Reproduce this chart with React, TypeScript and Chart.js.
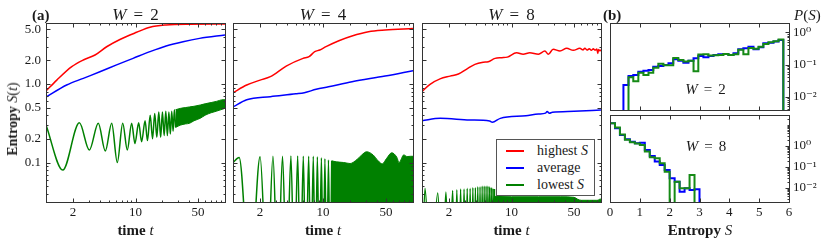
import React, { useEffect, useRef } from 'react';
import { Chart, registerables } from 'chart.js';

Chart.register(...registerables);

// ---------------- data: panel (a), entropy vs time ----------------
const T_MIN = 1;
const T_MAX = 100;
const S_MIN = 0.0314;
const S_MAX = 5.98;
const X_TICKS = [2, 10, 50];
const X_LABELS = ['2', '10', '50'];
const Y_TICKS = [0.1, 0.2, 0.5, 1.0, 2.0, 5.0];
const Y_LABELS = ['0.1', '0.2', '0.5', '1.0', '2.0', '5.0'];

// W = 2
const W2_HIGH_T = [1, 1.32, 1.94, 2.61, 3.53, 4.76, 6.7, 10.3, 14.5, 22, 40, 100];
const W2_HIGH_S = [0.815, 1.12, 1.66, 2.02, 2.34, 2.98, 3.69, 4.55, 5.28, 5.64, 5.77, 5.8];
const W2_AVG_T = [1, 1.7, 2.61, 4.0, 6.15, 9.4, 14.5, 22, 34, 52, 100];
const W2_AVG_S = [0.68, 0.97, 1.18, 1.43, 1.75, 2.12, 2.58, 3.05, 3.46, 3.81, 4.2];
const W2_LOW_T = [1, 1.54, 2.36, 3.05, 3.84, 4.6, 5.42, 6.26, 7.2, 8.1, 9.06, 9.86, 10.85, 11.7, 12.8, 13.6, 14.6, 15.5, 16.4, 17.3, 18.2, 19.1, 20.0, 20.9, 21.8, 22.7, 23.6, 24.5, 25.4, 26.3, 27.2, 28.1];
const W2_LOW_S = [0.30, 0.080, 0.32, 0.144, 0.316, 0.14, 0.316, 0.10, 0.316, 0.144, 0.316, 0.175, 0.32, 0.184, 0.34, 0.19, 0.40, 0.20, 0.42, 0.21, 0.44, 0.21, 0.44, 0.22, 0.45, 0.22, 0.44, 0.23, 0.45, 0.25, 0.47, 0.28];
const W2_BAND_T = [28, 32, 36, 40, 45, 53, 60, 70, 80, 95, 100];
const W2_BAND_HI = [0.47, 0.49, 0.50, 0.51, 0.52, 0.54, 0.56, 0.58, 0.60, 0.63, 0.63];
const W2_BAND_LO = [0.28, 0.30, 0.31, 0.315, 0.34, 0.366, 0.40, 0.43, 0.45, 0.48, 0.49];

// W = 4
const W4_HIGH_T = [1, 1.42, 2.0, 2.6, 3.9, 6.0, 7.0, 8.1, 9.2, 10.8, 15, 21, 32, 49, 100];
const W4_HIGH_S = [0.775, 0.97, 1.12, 1.24, 1.69, 2.12, 2.23, 2.58, 2.71, 2.99, 3.56, 4.09, 4.63, 4.87, 5.1];
const W4_AVG_T = [1, 1.42, 2.6, 5.0, 6.2, 8.4, 11.5, 21, 49, 100];
const W4_AVG_S = [0.51, 0.63, 0.69, 0.75, 0.775, 0.855, 0.92, 1.07, 1.26, 1.48];
const W4_LOW_T = [1, 1.17, 1.55, 2.0, 2.4, 2.78, 3.15, 3.55, 3.95, 4.4, 4.8, 5.23, 5.62, 6.04, 6.45, 6.93, 7.35, 7.8, 8.2, 8.66, 9.1, 9.6, 10.05, 10.5, 11.0, 11.5, 12.0, 12.5];
const W4_LOW_S = [0.10, 0.116, 0.003, 0.118, 0.003, 0.12, 0.003, 0.12, 0.003, 0.121, 0.003, 0.121, 0.003, 0.12, 0.003, 0.12, 0.003, 0.12, 0.003, 0.118, 0.003, 0.115, 0.003, 0.112, 0.003, 0.108, 0.003, 0.105];
const W4_BAND_T = [12.5, 14, 17, 20, 24, 27, 30.5, 36, 41, 45.5, 51, 58, 66, 70, 79, 86, 94, 100];
const W4_BAND_HI = [0.105, 0.102, 0.10, 0.097, 0.11, 0.125, 0.137, 0.125, 0.105, 0.096, 0.113, 0.133, 0.117, 0.10, 0.125, 0.119, 0.12, 0.12];

// W = 8
const W8_HIGH_T = [1, 1.23, 1.59, 2.06, 2.55, 3.16, 3.9, 4.84, 5.5, 6.55, 7.8, 8.98, 11.4, 13.5, 16, 20, 23.6, 25.8, 29.2, 34.8, 41.4, 49, 58, 63, 66, 70, 74, 78, 82, 86, 90, 92, 94, 97, 100];
const W8_HIGH_S = [0.80, 0.99, 1.16, 1.26, 1.34, 1.55, 1.78, 1.89, 1.92, 2.12, 2.16, 2.2, 2.5, 2.39, 2.5, 2.39, 2.63, 2.39, 2.77, 2.63, 2.85, 2.68, 2.85, 2.72, 2.86, 2.7, 2.82, 2.68, 2.8, 2.7, 2.78, 2.45, 2.75, 2.65, 2.72];
const W8_AVG_T = [1, 1.6, 3.4, 5.7, 6.1, 7.5, 14.5, 20, 24, 25, 26.5, 28.6, 50, 100];
const W8_AVG_S = [0.34, 0.365, 0.348, 0.338, 0.325, 0.365, 0.395, 0.415, 0.425, 0.445, 0.425, 0.436, 0.45, 0.467];
const W8_LOW_T = [1, 1.08, 1.25, 1.5, 1.68, 1.85, 2.02, 2.2, 2.33, 2.45, 2.58, 2.7, 2.83, 2.95, 3.08, 3.2, 3.33, 3.45, 3.58, 3.7, 3.83, 3.95, 4.08, 4.2, 4.33, 4.45, 4.58, 4.7, 4.83, 4.95, 5.08, 5.2, 5.33, 5.45, 5.58, 5.7, 5.83, 5.95, 6.08, 6.2, 6.33, 6.45];
const W8_LOW_S = [0.003, 0.047, 0.003, 0.041, 0.003, 0.042, 0.003, 0.044, 0.003, 0.045, 0.003, 0.046, 0.003, 0.046, 0.003, 0.047, 0.003, 0.047, 0.003, 0.048, 0.003, 0.048, 0.003, 0.049, 0.003, 0.049, 0.003, 0.05, 0.003, 0.05, 0.003, 0.05, 0.003, 0.05, 0.003, 0.049, 0.003, 0.048, 0.003, 0.047, 0.003, 0.046];
const W8_BAND_T = [6.45, 10, 20, 35, 50, 55, 60, 75, 90, 95, 98, 100];
const W8_BAND_HI = [0.037, 0.0366, 0.0366, 0.0366, 0.036, 0.034, 0.033, 0.033, 0.033, 0.0335, 0.0345, 0.0335];

// ---------------- data: panel (b), histograms P(S) ----------------
const HIST_X_TICKS = [0, 1, 2, 3, 4, 5, 6];
const HIST_Y_TICKS = [1, 0.1, 0.01];
const HIST_Y_LABELS = ['10\u2070', '10\u207B\u00B9', '10\u207B\u00B2'];
const HIST_W2_RANGE = [0.0038, 1.98];
const HIST_W8_RANGE = [0.00215, 29.9];

const HIST_W2_EDGES = [0.45, 0.62, 0.78, 0.95, 1.12, 1.29, 1.45, 1.62, 1.79, 1.96, 2.12, 2.29, 2.46, 2.63, 2.80, 2.96, 3.13, 3.30, 3.47, 3.63, 3.80, 3.97, 4.14, 4.30, 4.47, 4.64, 4.81, 4.98, 5.14, 5.31, 5.48, 5.65, 5.81];
const HIST_W2_AVG = [0.023, 0.044, 0.047, 0.059, 0.064, 0.067, 0.085, 0.09, 0.096, 0.109, 0.146, 0.132, 0.114, 0.132, 0.156, 0.184, 0.168, 0.184, 0.198, 0.208, 0.213, 0.198, 0.224, 0.30, 0.32, 0.36, 0.30, 0.345, 0.46, 0.48, 0.52, 0.58];
const HIST_W2_LOW = [0, 0.040, 0.030, 0.055, 0.047, 0.055, 0.08, 0.105, 0.095, 0.095, 0.16, 0.138, 0.125, 0.13, 0.062, 0.205, 0.21, 0.19, 0.195, 0.2, 0.215, 0.2, 0.21, 0.29, 0.21, 0.33, 0.31, 0.36, 0.44, 0.5, 0.53, 0.6];

const HIST_W8_EDGES = [0, 0.167, 0.333, 0.5, 0.667, 0.833, 1.0, 1.167, 1.333, 1.5, 1.667, 1.833, 2.0, 2.167, 2.333, 2.5, 2.667, 2.833, 3.0];
const HIST_W8_AVG = [12, 7, 3.3, 2.1, 1.6, 1.35, 1.43, 0.64, 0.33, 0.18, 0.124, 0.072, 0.029, 0.02, 0.0066, 0.0097, 0.008, 0.0086];
const HIST_W8_LOW = [12, 7.5, 3.5, 2.0, 1.5, 1.3, 1.1, 0.55, 0.29, 0.26, 0.15, 0.06, 0, 0.02, 0.0097, 0.0097, 0.041, 0];

// ---------------- styling / layout ----------------
const SERIF = '"Liberation Serif", "DejaVu Serif", serif';
const INK = '#1a1a1a';
const FRAME = '#333333';
const RED = '#ff0000';
const BLUE = '#0000ff';
const GREEN = '#008000';
const HIST_FLOOR = 1e-5;
const W = 831;
const H = 243;

type Box = { l: number; t: number; r: number; b: number };
const BOX_A1: Box = { l: 46, t: 23, r: 225, b: 202 };
const BOX_A2: Box = { l: 233, t: 23, r: 413, b: 202 };
const BOX_A3: Box = { l: 422, t: 23, r: 601, b: 202 };
const BOX_B1: Box = { l: 610, t: 23, r: 789, b: 110 };
const BOX_B2: Box = { l: 610, t: 115, r: 789, b: 202 };

const pts = (xs: number[], ys: number[]) => xs.map((x, i) => ({ x, y: ys[i] }));

function minorLog(min: number, max: number, majors: number[]) {
  const out: number[] = [];
  for (let k = Math.floor(Math.log10(min)); k <= Math.ceil(Math.log10(max)); k++) {
    for (let m = 1; m <= 9; m++) {
      const v = m * Math.pow(10, k);
      if (v >= min && v <= max && !majors.some((t) => Math.abs(t - v) / v < 1e-6)) out.push(v);
    }
  }
  return out;
}

type TickSpec = {
  xMajor: number[];
  xMinor: number[];
  yMajor: number[];
  yMinor: number[];
  yLeft: boolean;
  yRight: boolean;
};

function framePlugin(spec: TickSpec) {
  return {
    id: 'frameTicks',
    afterDatasetsDraw(chart: any) {
      const { ctx, chartArea: a } = chart;
      const xs = chart.scales.x;
      const ys = chart.scales.y;
      const X = (v: number) => Math.round(xs.getPixelForValue(v)) + 0.5;
      const Y = (v: number) => Math.round(ys.getPixelForValue(v)) + 0.5;
      const L = Math.round(a.left) + 0.5;
      const R = Math.round(a.right) + 0.5;
      const T = Math.round(a.top) + 0.5;
      const B = Math.round(a.bottom) + 0.5;
      ctx.save();
      ctx.strokeStyle = FRAME;
      ctx.lineWidth = 1;
      ctx.beginPath();
      const seg = (x1: number, y1: number, x2: number, y2: number) => {
        ctx.moveTo(x1, y1);
        ctx.lineTo(x2, y2);
      };
      const xGroups: [number[], number][] = [[spec.xMajor, 4], [spec.xMinor, 2]];
      for (const [vals, len] of xGroups) {
        for (const v of vals) {
          const px = X(v);
          seg(px, B, px, B - len);
          seg(px, T, px, T + len);
        }
      }
      const yGroups: [number[], number][] = [[spec.yMajor, 4], [spec.yMinor, 2]];
      for (const [vals, len] of yGroups) {
        for (const v of vals) {
          const py = Y(v);
          if (spec.yLeft) seg(L, py, L + len, py);
          if (spec.yRight) seg(R, py, R - len, py);
        }
      }
      ctx.stroke();
      ctx.strokeRect(L, T, R - L, B - T);
      ctx.restore();
    },
  };
}

const tickFont = { family: SERIF, size: 13 };

type APanel = {
  box: Box;
  high: [number[], number[]];
  avg: [number[], number[]];
  low: [number[], number[]];
  bandT: number[];
  bandHi: number[];
  bandLo: number[] | null;
  yLabels: boolean;
};

const A_PANELS: APanel[] = [
  { box: BOX_A1, high: [W2_HIGH_T, W2_HIGH_S], avg: [W2_AVG_T, W2_AVG_S], low: [W2_LOW_T, W2_LOW_S], bandT: W2_BAND_T, bandHi: W2_BAND_HI, bandLo: W2_BAND_LO, yLabels: true },
  { box: BOX_A2, high: [W4_HIGH_T, W4_HIGH_S], avg: [W4_AVG_T, W4_AVG_S], low: [W4_LOW_T, W4_LOW_S], bandT: W4_BAND_T, bandHi: W4_BAND_HI, bandLo: null, yLabels: false },
  { box: BOX_A3, high: [W8_HIGH_T, W8_HIGH_S], avg: [W8_AVG_T, W8_AVG_S], low: [W8_LOW_T, W8_LOW_S], bandT: W8_BAND_T, bandHi: W8_BAND_HI, bandLo: null, yLabels: false },
];

// Scale boxes take exactly the space outside the plot frame, so that
// tick labels (clipped to the scale box by Chart.js) stay visible.
function xScaleBase(box: Box) {
  return {
    grid: { display: false, drawTicks: false },
    border: { display: false },
    afterFit: (s: any) => {
      s.height = H - box.b;
    },
  };
}

function timeConfig(p: APanel): any {
  const line = (data: any[], color: string, width = 1.5) => ({
    data,
    borderColor: color,
    backgroundColor: color,
    borderWidth: width,
    pointRadius: 0,
    fill: false,
    cubicInterpolationMode: 'monotone',
  });
  const datasets: any[] = [];
  datasets.push(line(pts(p.low[0], p.low[1]), GREEN));
  if (p.bandLo) {
    datasets.push({ ...line(pts(p.bandT, p.bandHi), GREEN, 1), fill: '+1' });
    datasets.push(line(pts(p.bandT, p.bandLo), GREEN, 1));
  } else {
    datasets.push({ ...line(pts(p.bandT, p.bandHi), GREEN, 1), fill: 'start' });
  }
  datasets.push(line(pts(p.avg[0], p.avg[1]), BLUE));
  datasets.push(line(pts(p.high[0], p.high[1]), RED));

  const box = p.box;
  return {
    type: 'line',
    data: { datasets },
    options: {
      animation: false,
      responsive: false,
      events: [],
      layout: { padding: { left: 0, top: box.t, right: W - box.r, bottom: 0 } },
      plugins: { legend: { display: false }, tooltip: { enabled: false }, title: { display: false } },
      scales: {
        x: {
          ...xScaleBase(box),
          type: 'logarithmic',
          min: T_MIN,
          max: T_MAX,
          ticks: {
            font: tickFont,
            color: INK,
            padding: 3,
            autoSkip: false,
            maxRotation: 0,
            callback: (v: number) => {
              const i = X_TICKS.indexOf(v);
              return i >= 0 ? X_LABELS[i] : '';
            },
          },
          afterBuildTicks: (s: any) => {
            s.ticks = X_TICKS.map((v) => ({ value: v }));
          },
        },
        y: {
          type: 'logarithmic',
          min: S_MIN,
          max: S_MAX,
          grid: { display: false, drawTicks: false },
          border: { display: false },
          ticks: {
            display: p.yLabels,
            font: tickFont,
            color: INK,
            padding: 5,
            autoSkip: false,
            callback: (v: number) => {
              const i = Y_TICKS.indexOf(v);
              return i >= 0 ? Y_LABELS[i] : '';
            },
          },
          afterBuildTicks: (s: any) => {
            s.ticks = Y_TICKS.map((v) => ({ value: v }));
          },
          afterFit: (s: any) => {
            s.width = box.l;
          },
        },
      },
    },
    plugins: [
      framePlugin({
        xMajor: X_TICKS,
        xMinor: minorLog(T_MIN, T_MAX, X_TICKS),
        yMajor: Y_TICKS,
        yMinor: minorLog(S_MIN, S_MAX, Y_TICKS),
        yLeft: true,
        yRight: true,
      }),
    ],
  };
}

function histPts(edges: number[], vals: number[]) {
  const v = vals.map((x) => (x > 0 ? x : HIST_FLOOR));
  const out = [{ x: edges[0], y: HIST_FLOOR }];
  v.forEach((y, i) => out.push({ x: edges[i], y }));
  out.push({ x: edges[v.length], y: v[v.length - 1] });
  out.push({ x: edges[v.length], y: HIST_FLOOR });
  return out;
}

type BPanel = { box: Box; edges: number[]; avg: number[]; low: number[]; range: number[]; xLabels: boolean };
const B_PANELS: BPanel[] = [
  { box: BOX_B1, edges: HIST_W2_EDGES, avg: HIST_W2_AVG, low: HIST_W2_LOW, range: HIST_W2_RANGE, xLabels: false },
  { box: BOX_B2, edges: HIST_W8_EDGES, avg: HIST_W8_AVG, low: HIST_W8_LOW, range: HIST_W8_RANGE, xLabels: true },
];

function histConfig(p: BPanel): any {
  const step = (data: any[], color: string, width: number) => ({
    data,
    borderColor: color,
    backgroundColor: color,
    borderWidth: width,
    pointRadius: 0,
    fill: false,
    stepped: 'before',
    tension: 0,
  });
  const box = p.box;
  return {
    type: 'line',
    data: {
      datasets: [step(histPts(p.edges, p.low), '#168a16', 2), step(histPts(p.edges, p.avg), BLUE, 2)],
    },
    options: {
      animation: false,
      responsive: false,
      events: [],
      layout: { padding: { left: box.l, top: box.t, right: 0, bottom: 0 } },
      plugins: { legend: { display: false }, tooltip: { enabled: false }, title: { display: false } },
      scales: {
        x: {
          ...xScaleBase(box),
          type: 'linear',
          min: 0,
          max: 6,
          ticks: {
            display: p.xLabels,
            font: tickFont,
            color: INK,
            padding: 3,
            autoSkip: false,
            maxRotation: 0,
            callback: (v: number) => String(v),
          },
          afterBuildTicks: (s: any) => {
            s.ticks = HIST_X_TICKS.map((v) => ({ value: v }));
          },
        },
        y: {
          type: 'logarithmic',
          position: 'right',
          min: p.range[0],
          max: p.range[1],
          grid: { display: false, drawTicks: false },
          border: { display: false },
          ticks: {
            font: tickFont,
            color: INK,
            padding: 4,
            autoSkip: false,
            callback: (v: number) => {
              const i = HIST_Y_TICKS.indexOf(v);
              return i >= 0 ? HIST_Y_LABELS[i] : '';
            },
          },
          afterBuildTicks: (s: any) => {
            s.ticks = HIST_Y_TICKS.map((v) => ({ value: v }));
          },
          afterFit: (s: any) => {
            s.width = W - box.r;
          },
        },
      },
    },
    plugins: [
      framePlugin({
        xMajor: HIST_X_TICKS,
        xMinor: [],
        yMajor: HIST_Y_TICKS,
        yMinor: minorLog(p.range[0], p.range[1], HIST_Y_TICKS),
        yLeft: false,
        yRight: true,
      }),
    ],
  };
}

function ChartLayer({ make }: { make: () => any }) {
  const ref = useRef<HTMLCanvasElement>(null);
  useEffect(() => {
    const chart = new Chart(ref.current as HTMLCanvasElement, make());
    return () => chart.destroy();
  }, []);
  return (
    <canvas
      ref={ref}
      width={W}
      height={H}
      style={{ position: 'absolute', left: 0, top: 0, width: W, height: H }}
    />
  );
}

function Txt(props: {
  x: number;
  y: number;
  size?: number;
  bold?: boolean;
  align?: 'center' | 'left';
  rotate?: number;
  children: React.ReactNode;
}) {
  const { x, y, size = 13, bold = false, align = 'center', rotate = 0, children } = props;
  const tx = align === 'center' ? '-50%' : '0';
  return (
    <div
      style={{
        position: 'absolute',
        left: x,
        top: y,
        transform: `translate(${tx}, -50%) rotate(${rotate}deg)`,
        fontFamily: SERIF,
        fontSize: size,
        fontWeight: bold ? 'bold' : 'normal',
        whiteSpace: 'nowrap',
        lineHeight: 1,
        color: INK,
      }}
    >
      {children}
    </div>
  );
}

const Eq = ({ w, gap }: { w: string; gap: number }) => (
  <>
    <i>W</i>
    <span style={{ margin: `0 ${gap}px` }}>=</span>
    {w}
  </>
);

const N = { fontWeight: 'normal' as const };

const LEGEND = [
  { label: 'highest', math: 'S', color: RED },
  { label: 'average', math: '', color: BLUE },
  { label: 'lowest', math: 'S', color: GREEN },
];

export default function App() {
  useEffect(() => {
    document.body.style.margin = '0';
  }, []);
  return (
    <div
      style={{
        position: 'fixed',
        left: 0,
        top: 0,
        width: W,
        height: H,
        background: '#ffffff',
        overflow: 'hidden',
      }}
    >
      {A_PANELS.map((p, i) => (
        <ChartLayer key={'a' + i} make={() => timeConfig(p)} />
      ))}
      {B_PANELS.map((p, i) => (
        <ChartLayer key={'b' + i} make={() => histConfig(p)} />
      ))}

      <Txt x={32} y={15} size={15} bold align="left">(a)</Txt>
      <Txt x={603} y={15} size={15} bold align="left">(b)</Txt>
      <Txt x={135.5} y={14} size={17}><Eq w="2" gap={7} /></Txt>
      <Txt x={323} y={14} size={17}><Eq w="4" gap={7} /></Txt>
      <Txt x={511.5} y={14} size={17}><Eq w="8" gap={7} /></Txt>
      <Txt x={794} y={15} size={15} align="left"><i>P</i>(<i>S</i>)</Txt>
      <Txt x={705.5} y={89} size={15}><Eq w="2" gap={6} /></Txt>
      <Txt x={706} y={146} size={15}><Eq w="8" gap={6} /></Txt>

      <Txt x={13} y={119} size={14} bold rotate={-90}>
        Entropy <i style={N}>S</i><span style={N}>(</span><i style={N}>t</i><span style={N}>)</span>
      </Txt>
      <Txt x={135.5} y={230} size={15} bold>time <i style={N}>t</i></Txt>
      <Txt x={323} y={230} size={15} bold>time <i style={N}>t</i></Txt>
      <Txt x={511.5} y={230} size={15} bold>time <i style={N}>t</i></Txt>
      <Txt x={700} y={230} size={15} bold>Entropy <i style={N}>S</i></Txt>

      <div
        style={{
          position: 'absolute',
          left: 496,
          top: 139,
          width: 99,
          height: 57,
          boxSizing: 'border-box',
          border: '1px solid #555',
          background: '#ffffff',
        }}
      >
        {LEGEND.map((e, i) => (
          <React.Fragment key={e.label}>
            <div
              style={{
                position: 'absolute',
                left: 9,
                top: 10 + i * 17,
                width: 18,
                height: 2,
                background: e.color,
              }}
            />
            <div
              style={{
                position: 'absolute',
                left: 40,
                top: 11 + i * 17,
                transform: 'translateY(-50%)',
                fontFamily: SERIF,
                fontSize: 14,
                lineHeight: 1,
                color: INK,
                whiteSpace: 'nowrap',
              }}
            >
              {e.label}
              {e.math ? <> <i>{e.math}</i></> : null}
            </div>
          </React.Fragment>
        ))}
      </div>
    </div>
  );
}
